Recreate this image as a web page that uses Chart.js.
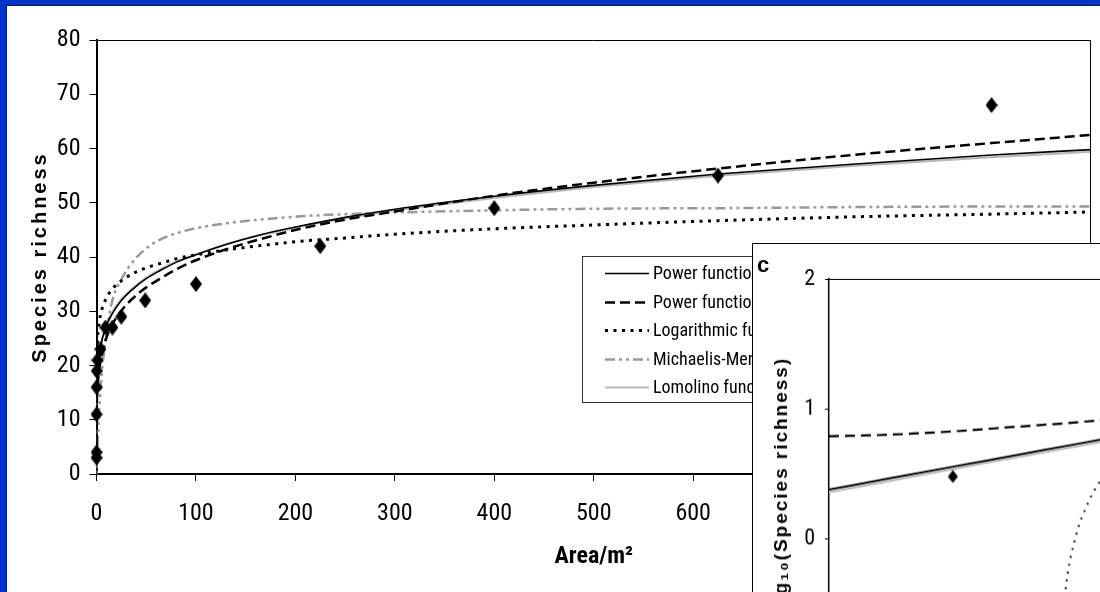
<!DOCTYPE html>
<html>
<head>
<meta charset="utf-8">
<script src="https://cdn.jsdelivr.net/npm/chart.js@4.4.1/dist/chart.umd.min.js"></script>
<style>
  html, body { margin: 0; padding: 0; width: 1100px; height: 592px; overflow: hidden; background: #0033cc; }
  #panel { position: absolute; left: 6px; top: 5px; width: 1094px; height: 587px; background: #fff;
           border-left: 1px solid #1a1a33; border-top: 1px solid #1a1a33; }
  #main { position: absolute; left: 7px; top: 6px; }
  #inset { position: absolute; left: 752px; top: 243px; background: #fff;
           border-left: 1px solid #000; border-top: 1px solid #000; }
</style>
</head>
<body>
<div id="panel"></div>
<canvas id="main" width="1093" height="586"></canvas>
<canvas id="inset" width="1100" height="500"></canvas>
<script>
// Sampled plot areas (m²) and the species counted in each
const plotAreas = [0.0001, 0.0025, 0.01, 0.0625, 0.25, 1, 4, 9, 16, 25, 49, 100, 225, 400, 625, 900];
const observedRichness = [3, 4, 11, 16, 19, 21, 23, 27, 27, 29, 32, 35, 42, 49, 55, 68];

// Fitted species–area curves, evaluated at these areas
const curveAreas = [0.0001, 0.001, 0.01, 0.05, 0.25, 1, 2, 4, 9, 16, 25, 36, 50, 64, 81, 100,
                    130, 165, 205, 250, 300, 400, 500, 625, 760, 900, 1000];
const powerFit = [3.9, 5.7, 8.5, 11.1, 14.6, 18.5, 20.8, 23.4, 26.9, 29.6, 32.0, 34.0, 36.0, 37.5, 39.1, 40.4,
                  42.3, 44.1, 45.7, 47.3, 48.8, 51.2, 53.2, 55.3, 57.1, 58.8, 59.8];
const powerLogFit = [2.5, 4.0, 6.3, 8.7, 12.0, 15.8, 18.1, 20.8, 24.6, 27.6, 30.1, 32.3, 34.4, 36.0, 37.8, 39.4,
                     41.4, 43.3, 45.2, 46.9, 48.4, 51.3, 53.7, 56.3, 58.8, 61.0, 62.5];
const logarithmicFit = [-7.3, 0.7, 8.6, 14.2, 19.7, 24.5, 26.9, 29.3, 32.1, 34.1, 35.6, 36.9, 38.0, 38.8, 39.7, 40.4,
                        41.3, 42.1, 42.9, 43.5, 44.2, 45.2, 45.9, 46.7, 47.4, 47.9, 48.3];
const michaelisMentenFit = [0, 0, 0.05, 0.25, 1.3, 5.0, 9.2, 15.5, 24.8, 32.0, 35.9, 39.0, 41.6, 43.2, 44.4, 45.3,
                            46.2, 46.9, 47.5, 47.9, 48.2, 48.6, 48.9, 49.0, 49.2, 49.3, 49.3];
const lomolinoFit = [3.7, 5.4, 8.1, 10.8, 14.3, 18.4, 20.8, 23.5, 27.1, 29.8, 32.2, 34.2, 36.2, 37.7, 39.2, 40.5,
                     42.3, 44.0, 45.6, 47.1, 48.6, 50.9, 52.9, 55.0, 56.8, 58.4, 59.4];

// Panel c: the same fits on log10–log10 axes
const insetLogArea = [-5, -4.5, -4, -3.5, -3, -2.5];
const insetPowerFit = [0.377, 0.465, 0.553, 0.64, 0.728, 0.815];
const insetPowerLogFit = [0.787, 0.80, 0.825, 0.86, 0.895, 0.94];
const insetLomolinoFit = [0.355, 0.445, 0.535, 0.622, 0.71, 0.80];
const insetLogarithmicArea = [-3.12, -3.085, -3.0, -2.92, -2.84, -2.7, -2.5];
const insetLogarithmicFit = [-0.7, -0.35, 0.044, 0.25, 0.40, 0.56, 0.72];

const seriesLabels = ['Power function (non-linear)', 'Power function (linear)', 'Logarithmic function',
                      'Michaelis-Menten function', 'Lomolino function'];
const mainYTicks = { min: 0, max: 80, step: 10 };
const mainXTicks = { min: 0, max: 1000, step: 100 };

const NARROW = '"Roboto Condensed", "Liberation Sans", sans-serif';
const SANS = '"Liberation Sans", Arial, sans-serif';

const pairs = (xs, ys) => xs.map((x, i) => ({ x, y: ys[i] }));

function diamond(w, h) {
  const c = document.createElement('canvas');
  c.width = w; c.height = h;
  const g = c.getContext('2d');
  g.fillStyle = '#000';
  g.beginPath();
  g.moveTo(w / 2, 0); g.lineTo(w, h / 2); g.lineTo(w / 2, h); g.lineTo(0, h / 2);
  g.closePath(); g.fill();
  return c;
}

// Top and right edges of the plot box
const framePlugin = {
  id: 'frame',
  afterDatasetsDraw(chart, args, o) {
    const { ctx, chartArea: a } = chart;
    const top = Math.round(a.top) + 0.5, right = Math.round(a.right) - 0.5;
    ctx.save();
    ctx.strokeStyle = o.color || '#000';
    ctx.lineWidth = 1;
    ctx.beginPath();
    ctx.moveTo(a.left - (o.overhang || 0), top);
    ctx.lineTo(right, top);
    ctx.lineTo(right, a.bottom);
    ctx.stroke();
    ctx.restore();
  }
};

// Rotated, letter-spaced axis title (and optional panel letter)
const sideTitlePlugin = {
  id: 'sideTitle',
  afterDraw(chart, args, o) {
    const { ctx, chartArea: a } = chart;
    ctx.save();
    ctx.fillStyle = '#000';
    ctx.font = o.font;
    if ('letterSpacing' in ctx) ctx.letterSpacing = o.spacing;
    ctx.translate(o.x, o.y != null ? o.y : (a.top + a.bottom) / 2);
    ctx.rotate(-Math.PI / 2);
    ctx.textAlign = o.align || 'center';
    ctx.textBaseline = 'middle';
    ctx.fillText(o.text, 0, 0);
    ctx.restore();
    if (o.panel) {
      ctx.save();
      ctx.fillStyle = '#000';
      ctx.font = o.panel.font;
      ctx.textAlign = 'left';
      ctx.textBaseline = 'alphabetic';
      ctx.fillText(o.panel.text, o.panel.x, o.panel.y);
      ctx.restore();
    }
  }
};

// Boxed legend inside the plot
const boxLegendPlugin = {
  id: 'boxLegend',
  afterDraw(chart, args, o) {
    const { ctx } = chart;
    const items = chart.data.datasets.filter(d => d.inLegend);
    ctx.save();
    ctx.fillStyle = '#fff';
    ctx.fillRect(o.left, o.top, o.width, o.height);
    ctx.strokeStyle = '#333';
    ctx.lineWidth = 1;
    ctx.strokeRect(o.left + 0.5, o.top + 0.5, o.width, o.height);
    items.forEach((d, i) => {
      const y = Math.round(o.top + o.firstRow + i * o.rowHeight) + 0.5;
      ctx.beginPath();
      ctx.strokeStyle = d.borderColor;
      ctx.lineWidth = d.borderWidth;
      ctx.setLineDash(d.borderDash || []);
      ctx.moveTo(o.sampleLeft, y);
      ctx.lineTo(o.sampleLeft + o.sampleLength, y);
      ctx.stroke();
      ctx.setLineDash([]);
      ctx.fillStyle = '#000';
      ctx.font = o.font;
      ctx.textAlign = 'left';
      ctx.textBaseline = 'middle';
      ctx.fillText(d.label, o.sampleLeft + o.sampleLength + o.gap, y + 1);
    });
    ctx.restore();
  }
};

const noSidePadding = s => { s.paddingLeft = 0; s.paddingRight = 0; };

const curve = (label, ys, style) => Object.assign({
  label, data: pairs(curveAreas, ys), showLine: true, pointRadius: 0, fill: false,
  cubicInterpolationMode: 'monotone', inLegend: true
}, style);

const solidStyle = { borderColor: '#000', borderWidth: 1.6 };
const dashStyle = { borderColor: '#000', borderWidth: 2.5, borderDash: [10, 5] };
const dotStyle = { borderColor: '#000', borderWidth: 3, borderDash: [3, 5.5] };
const mmStyle = { borderColor: '#999', borderWidth: 2.5, borderDash: [10, 4, 3, 4, 3, 4] };
const lomoStyle = { borderColor: '#b8b8b8', borderWidth: 2.2 };

new Chart(document.getElementById('main'), {
  type: 'scatter',
  data: {
    datasets: [
      { label: 'Observed', data: pairs(plotAreas, observedRichness), pointStyle: diamond(12, 16),
        pointRadius: 8, showLine: false, clip: false },
      curve(seriesLabels[0], powerFit, solidStyle),
      curve(seriesLabels[1], powerLogFit, dashStyle),
      curve(seriesLabels[2], logarithmicFit, dotStyle),
      curve(seriesLabels[3], michaelisMentenFit, mmStyle),
      curve(seriesLabels[4], lomolinoFit, lomoStyle)
    ]
  },
  options: {
    responsive: false,
    animation: false,
    events: [],
    layout: { padding: { left: 0, top: 34, right: 9, bottom: 0 }, autoPadding: false },
    plugins: {
      legend: { display: false },
      tooltip: { enabled: false },
      frame: { color: '#000' },
      sideTitle: { text: 'Species richness', font: 'bold 20px ' + SANS, spacing: '3px', x: 33 },
      boxLegend: { left: 575, top: 250, width: 330, height: 146, firstRow: 17, rowHeight: 28.5,
                   sampleLeft: 598, sampleLength: 44, gap: 4, font: '18px ' + NARROW }
    },
    scales: {
      x: {
        type: 'linear', min: mainXTicks.min, max: mainXTicks.max,
        afterFit: s => { s.height = 118; noSidePadding(s); },
        ticks: { stepSize: mainXTicks.step, color: '#000', font: { family: NARROW, size: 24 },
                 padding: 19, maxRotation: 0, autoSkip: false },
        grid: { drawOnChartArea: false, tickLength: 7, tickColor: '#000', tickWidth: 1 },
        border: { color: '#000', width: 2 },
        title: { display: true, text: 'Area/m²', color: '#000',
                 font: { family: NARROW, size: 24, weight: 'bold' }, padding: { top: 0, bottom: 21 } }
      },
      y: {
        type: 'linear', min: mainYTicks.min, max: mainYTicks.max,
        afterFit: s => { s.width = 89.5; },
        ticks: { stepSize: mainYTicks.step, color: '#000', font: { family: NARROW, size: 24 }, padding: 9 },
        grid: { drawOnChartArea: false, tickLength: 7, tickColor: '#000', tickWidth: 1 },
        border: { color: '#000', width: 2 }
      }
    }
  },
  plugins: [framePlugin, sideTitlePlugin, boxLegendPlugin]
});

const insetLine = (xs, ys, style) => Object.assign({
  data: pairs(xs, ys), showLine: true, pointRadius: 0, fill: false, cubicInterpolationMode: 'monotone'
}, style);

new Chart(document.getElementById('inset'), {
  type: 'scatter',
  data: {
    datasets: [
      { label: 'Observed', data: plotAreas.map((a, i) => ({ x: Math.log10(a), y: Math.log10(observedRichness[i]) })),
        pointStyle: diamond(10, 13), pointRadius: 7, showLine: false, clip: false },
      insetLine(insetLogArea, insetPowerFit, { label: seriesLabels[0], borderColor: '#000', borderWidth: 2 }),
      insetLine(insetLogArea, insetPowerLogFit, { label: seriesLabels[1], borderColor: '#000', borderWidth: 2.2, borderDash: [10, 6] }),
      insetLine(insetLogarithmicArea, insetLogarithmicFit, { label: seriesLabels[2], borderColor: '#000', borderWidth: 1.8, borderDash: [2, 6] }),
      insetLine(insetLogArea, insetLomolinoFit, { label: seriesLabels[4], borderColor: '#b8b8b8', borderWidth: 2 })
    ]
  },
  options: {
    responsive: false,
    animation: false,
    events: [],
    layout: { padding: { left: 0, top: 35, right: 32, bottom: 0 }, autoPadding: false },
    plugins: {
      legend: { display: false },
      tooltip: { enabled: false },
      frame: { color: '#000', overhang: 4 },
      sideTitle: { text: 'log₁₀(Species richness)', font: 'bold 19px ' + SANS, spacing: '2px',
                   x: 29, y: 113, align: 'right',
                   panel: { text: 'c', font: 'bold 22px ' + SANS, x: 4, y: 28 } }
    },
    scales: {
      x: {
        type: 'linear', min: -5, max: 3,
        afterFit: s => { s.height = 75; noSidePadding(s); },
        ticks: { stepSize: 1, color: '#000', font: { family: NARROW, size: 21 }, maxRotation: 0 },
        grid: { drawOnChartArea: false, tickLength: 4, tickColor: '#000' },
        border: { color: '#000', width: 1.5 }
      },
      y: {
        type: 'linear', min: -1, max: 2,
        afterFit: s => { s.width = 76; },
        ticks: { stepSize: 1, color: '#000', font: { family: NARROW, size: 22 }, padding: 10 },
        grid: { drawOnChartArea: false, tickLength: 4, tickColor: '#000' },
        border: { color: '#000', width: 1.5 }
      }
    }
  },
  plugins: [framePlugin, sideTitlePlugin]
});
</script>
</body>
</html>
